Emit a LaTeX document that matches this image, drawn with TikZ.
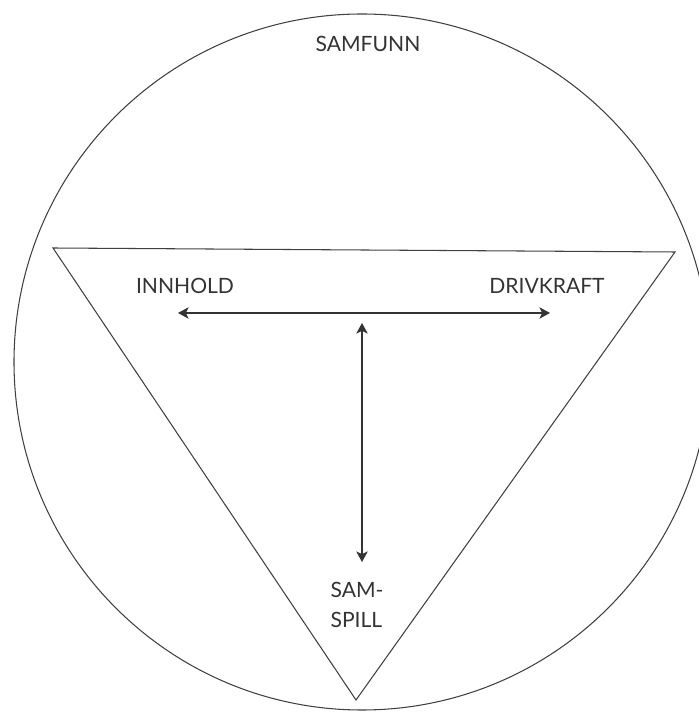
\documentclass[tikz,border=0pt]{standalone}
\usepackage{fontspec}
\setmainfont{Lato}
\usetikzlibrary{arrows.meta}
\begin{document}
\begin{tikzpicture}[every node/.style={font=\fontsize{12}{17}\selectfont, text=black!80},
  ring/.style={draw=black!75, line width=0.6pt},
  tri/.style={draw=black!75, line width=0.6pt, line join=miter},
  link/.style={{Stealth[length=6pt,width=6.5pt,inset=1.5pt]}-{Stealth[length=6pt,width=6.5pt,inset=1.5pt]}, draw=black!80, line width=0.7pt}]
  \useasboundingbox (0,0) rectangle (13.98,14.26);
  % society and the triangle
  \draw[ring] (7.24,7.02) circle (6.96);
  \draw[tri] (1.06,9.30) -- (13.50,9.22) -- (7.12,0.26) -- cycle;
  % labels
  \node (samfunn) at (7.36,13.38) {SAMFUNN};
  \node (innhold) at (3.70,8.54) {INNHOLD};
  \node (drivkraft) at (10.94,8.54) {DRIVKRAFT};
  \node[align=left] (samspill) at (7.14,2.16) {SAM-\\SPILL};
  % arrow ends
  \coordinate (hl) at (3.56,8.00);
  \coordinate (hr) at (11.00,8.00);
  \coordinate (vt) at (7.24,7.80);
  \coordinate (vb) at (7.24,3.02);
  \draw[link] (hl) -- (hr);
  \draw[link] (vt) -- (vb);
\end{tikzpicture}
\end{document}
